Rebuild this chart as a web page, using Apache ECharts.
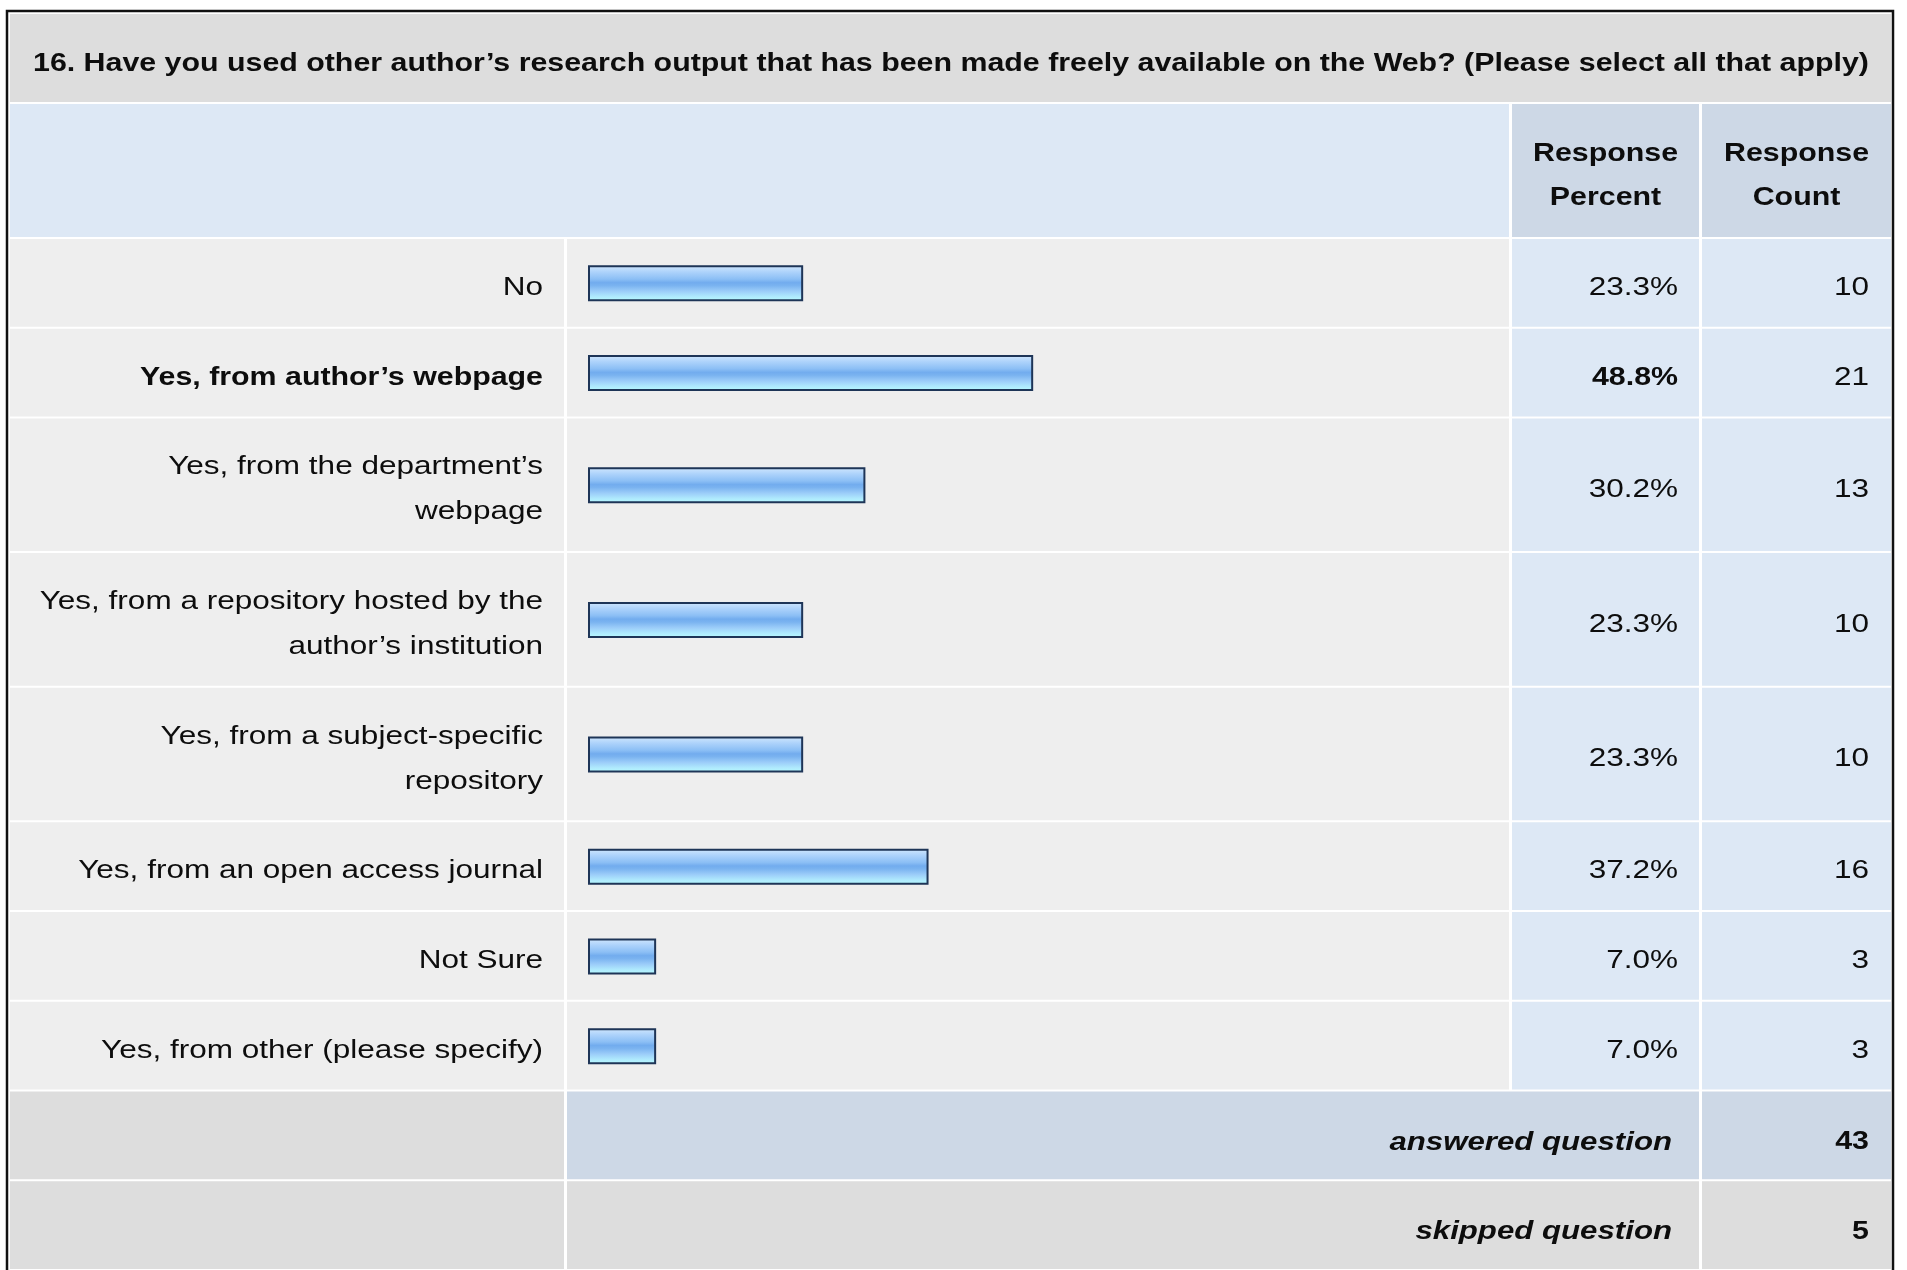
<!DOCTYPE html>
<html><head><meta charset="utf-8">
<script src="https://cdn.jsdelivr.net/npm/echarts@6/dist/echarts.min.js"></script>
<style>html,body{margin:0;padding:0;background:#fff;overflow:hidden}#c{width:1907px;height:1270px}</style>
</head><body><div id="c"></div>
<script>
// ---- data ----
const questionTitle = '16. Have you used other author’s research output that has been made freely available on the Web? (Please select all that apply)';
const columnHeaders = ['Response\nPercent', 'Response\nCount'];
const answerChoices = [
  'No',
  'Yes, from author’s webpage',
  'Yes, from the department’s\nwebpage',
  'Yes, from a repository hosted by the\nauthor’s institution',
  'Yes, from a subject-specific\nrepository',
  'Yes, from an open access journal',
  'Not Sure',
  'Yes, from other (please specify)'
];
const responsePercent = [23.3, 48.8, 30.2, 23.3, 23.3, 37.2, 7.0, 7.0];
const responseCount = [10, 21, 13, 10, 10, 16, 3, 3];
const summaryLabels = ['answered question', 'skipped question'];
const summaryCounts = [43, 5];

// ---- layout / style ----
const UNIT = 45.05;
const FONT = '"Liberation Sans", Arial, Helvetica, sans-serif';
const COL = { lab: [10, 564], bar: [567, 1509], pct: [1512, 1699], cnt: [1702, 1891] };
const C = { title: '#dddddd', headLight: '#dde8f5', headDark: '#cdd8e6', row: '#eeeeee', rowBlue: '#dde8f5', foot: '#dddddd', footBlue: '#cdd8e6', text: '#0d0d0d' };

// row extents in units (1 unit per text line + 1 padding unit)
let acc = 0;
const choiceData = answerChoices.map((lab, i) => {
  const u = lab.split('\n').length + 1;
  const item = [acc, acc + u, responsePercent[i], responseCount[i]];
  acc += u;
  return item;
});
const summaryData = summaryLabels.map((lab, i) => {
  const item = [acc, acc + 2, summaryCounts[i]];
  acc += 2;
  return item;
});
const totalUnits = acc;
const maxIdx = responsePercent.indexOf(Math.max.apply(null, responsePercent));

function cell(x, y0, y1, fill) {
  return { type: 'rect', shape: { x: x[0], y: y0 + 1, width: x[1] - x[0], height: y1 - y0 - 2 }, style: { fill: fill } };
}
function txt(x, y, text, o) {
  o = o || {};
  let fs = 26, sx = 1.212;
  if (o.bold && !o.italic) { fs = 25.5; sx = 1.19; }
  if (o.bold && o.italic) { fs = 26; sx = 1.2; }
  return {
    type: 'text', x: x, y: y, scaleX: sx,
    style: {
      text: text, fill: C.text, fontFamily: FONT, fontSize: fs,
      fontWeight: o.bold ? 'bold' : 'normal', fontStyle: o.italic ? 'italic' : 'normal',
      align: o.align || 'right', verticalAlign: 'middle', lineHeight: o.lh || 45
    }
  };
}
const barFill = new echarts.graphic.LinearGradient(0, 0, 0, 1, [
  { offset: 0, color: '#d2e8fd' },
  { offset: 0.18, color: '#aed3fb' },
  { offset: 0.38, color: '#8cbff5' },
  { offset: 0.48, color: '#72acee' },
  { offset: 0.56, color: '#7ab3f0' },
  { offset: 0.72, color: '#9ccdf9' },
  { offset: 0.86, color: '#aee8fd' },
  { offset: 1, color: '#b8fcff' }
]);
const BAR_PAD = 3; // minimum bar body beyond the scaled length (border allowance)

function renderChoice(params, api) {
  const i = params.dataIndex;
  const y0 = api.coord([0, api.value(0)])[1];
  const y1 = api.coord([0, api.value(1)])[1];
  const mid = (y0 + y1) / 2;
  const xs = api.coord([0, 0])[0];
  const xe = api.coord([api.value(2), 0])[0];
  const isMax = i === maxIdx;
  return {
    type: 'group',
    children: [
      cell(COL.lab, y0, y1, C.row),
      cell(COL.bar, y0, y1, C.row),
      cell(COL.pct, y0, y1, C.rowBlue),
      cell(COL.cnt, y0, y1, C.rowBlue),
      { type: 'rect', shape: { x: xs, y: mid - 16.5, width: xe - xs + BAR_PAD, height: 34 },
        style: { fill: barFill, stroke: '#1e3557', lineWidth: 2 } },
      txt(543, mid + 5, answerChoices[i], { bold: isMax }),
      txt(1678, mid + 5, api.value(2).toFixed(1) + '%', { bold: isMax }),
      txt(1869, mid + 5, String(api.value(3)))
    ]
  };
}
function renderSummary(params, api) {
  const i = params.dataIndex;
  const y0 = api.coord([0, api.value(0)])[1];
  const y1 = api.coord([0, api.value(1)])[1];
  const mid = (y0 + y1) / 2;
  const blue = i === 0;
  return {
    type: 'group',
    children: [
      cell(COL.lab, y0, y1, C.foot),
      cell([COL.bar[0], COL.pct[1]], y0, y1, blue ? C.footBlue : C.foot),
      cell(COL.cnt, y0, y1, blue ? C.footBlue : C.foot),
      txt(1672, mid + 7, summaryLabels[i], { bold: true, italic: true }),
      txt(1869, mid + 7, String(api.value(2)), { bold: true })
    ]
  };
}

const chart = echarts.init(document.getElementById('c'), null, { renderer: 'canvas' });
chart.setOption({
  animation: false,
  backgroundColor: '#ffffff',
  grid: { left: 589, top: 238, width: 902, height: totalUnits * UNIT },
  xAxis: { type: 'value', min: 0, max: 100, show: false },
  yAxis: { type: 'value', min: 0, max: totalUnits, inverse: true, show: false },
  graphic: [
    { type: 'rect', shape: { x: 10, y: 14, width: 1881, height: 88 }, style: { fill: C.title }, z: 1 },
    Object.assign(txt(33, 64, questionTitle, { bold: true, align: 'left' }), { z: 2 }),
    { type: 'rect', shape: { x: 10, y: 104, width: COL.bar[1] - 10, height: 133 }, style: { fill: C.headLight }, z: 1 },
    { type: 'rect', shape: { x: COL.pct[0], y: 104, width: COL.pct[1] - COL.pct[0], height: 133 }, style: { fill: C.headDark }, z: 1 },
    { type: 'rect', shape: { x: COL.cnt[0], y: 104, width: COL.cnt[1] - COL.cnt[0], height: 133 }, style: { fill: C.headDark }, z: 1 },
    Object.assign(txt((COL.pct[0] + COL.pct[1]) / 2, 175.5, columnHeaders[0], { bold: true, align: 'center', lh: 44 }), { z: 2 }),
    Object.assign(txt((COL.cnt[0] + COL.cnt[1]) / 2, 175.5, columnHeaders[1], { bold: true, align: 'center', lh: 44 }), { z: 2 }),
    { type: 'rect', shape: { x: 7, y: 11, width: 1886, height: 1320 }, style: { fill: null, stroke: '#111', lineWidth: 2.5 }, z: 100 }
  ],
  series: [
    { type: 'custom', renderItem: renderChoice, data: choiceData, clip: false, z: 2, silent: true },
    { type: 'custom', renderItem: renderSummary, data: summaryData, clip: false, z: 2, silent: true }
  ]
});
</script>
</body></html>
